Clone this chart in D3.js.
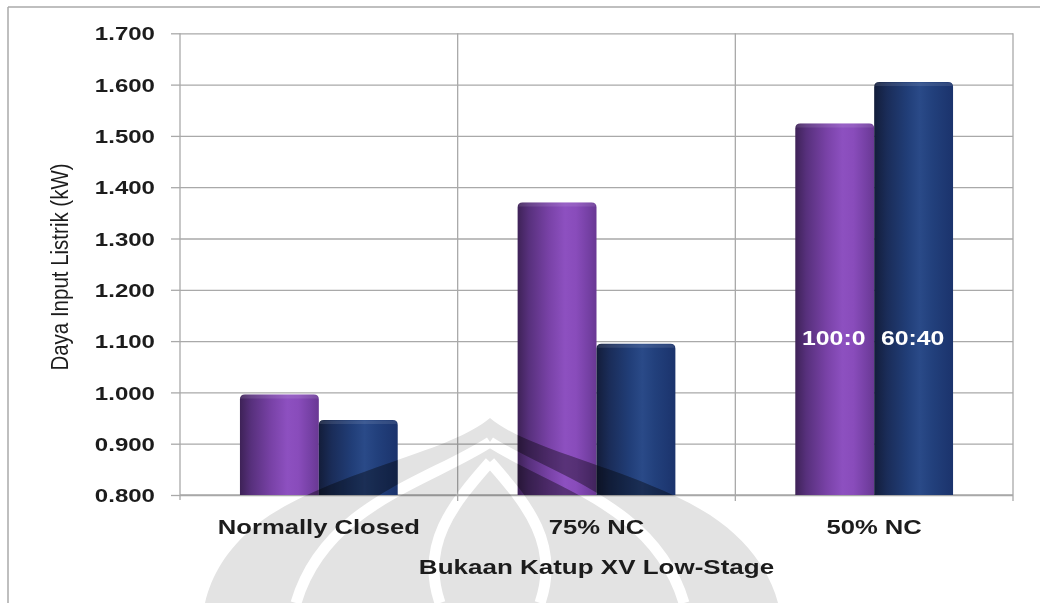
<!DOCTYPE html>
<html>
<head>
<meta charset="utf-8">
<script src="https://cdn.jsdelivr.net/npm/d3@7"></script>
<style>
  html, body { margin: 0; padding: 0; background: #fff; }
  svg { display: block; }
  text { font-family: "Liberation Sans", Arial, sans-serif; fill: #1c1c1c; }
</style>
</head>
<body>
<svg id="chart" width="1040" height="603"></svg>
<script>
// Electrical input power per valve opening, for two mixture ratios
const categories = ["Normally Closed", "75% NC", "50% NC"];
const seriesNames = ["100:0", "60:40"];
const series100_0 = [0.996, 1.370, 1.524];
const series60_40 = [0.946, 1.095, 1.605];
const yTicks = [0.8, 0.9, 1.0, 1.1, 1.2, 1.3, 1.4, 1.5, 1.6, 1.7];
const yTitle = "Daya Input Listrik (kW)";
const xTitle = "Bukaan Katup XV Low-Stage";

const seriesValues = [series100_0, series60_40];
const W = 1040, H = 603;
const plot = { left: 180, right: 1013, top: 33.3, bottom: 495 };
const stretch = 1.3;        // text is drawn horizontally widened
const gridColor = "#a9a9a9";

const svg = d3.select("#chart");
const defs = svg.append("defs");

// cylinder-like horizontal shading for each series
const gradStops = [
  [["0%", "#3e2257"], ["14%", "#57307c"], ["40%", "#7942a7"], ["60%", "#8d50c0"], ["74%", "#894cbb"], ["90%", "#7540a4"], ["100%", "#693893"]],
  [["0%", "#131d3a"], ["16%", "#1a2c58"], ["42%", "#213e78"], ["58%", "#2a4a88"], ["74%", "#22407c"], ["100%", "#1b336c"]]
];
gradStops.forEach((stops, i) => {
  const g = defs.append("linearGradient").attr("id", "barGrad" + i)
    .attr("x1", "0%").attr("x2", "100%").attr("y1", "0%").attr("y2", "0%");
  stops.forEach(([o, c]) => g.append("stop").attr("offset", o).attr("stop-color", c));
});

// outer frame
svg.append("line").attr("x1", 8).attr("y1", 7).attr("x2", W).attr("y2", 7)
  .attr("stroke", "#aaaaaa").attr("stroke-width", 1.5);
svg.append("line").attr("x1", 8).attr("y1", 7).attr("x2", 8).attr("y2", H)
  .attr("stroke", "#aaaaaa").attr("stroke-width", 1.5);

// scales
const x0 = d3.scaleBand().domain(categories).range([plot.left, plot.right]).padding(0);
const x1 = d3.scaleBand().domain(seriesNames).range([0, x0.bandwidth()])
  .paddingInner(0).paddingOuter(0.76);
const y = d3.scaleLinear().domain([0.8, 1.7]).range([plot.bottom, plot.top]);
const fmt = d3.format(".3f");

// horizontal gridlines
const grid = svg.append("g").attr("transform", `translate(${plot.left},0)`)
  .call(d3.axisLeft(y).tickValues(yTicks).tickSize(-(plot.right - plot.left)).tickFormat(""));
grid.select(".domain").remove();
grid.selectAll("line").attr("stroke", gridColor).attr("stroke-width", 1.3);

// vertical gridlines at category boundaries, with ticks below the axis
const bounds = categories.map(c => x0(c) + x0.bandwidth());
svg.append("g").selectAll("line").data(bounds).join("line")
  .attr("x1", d => d).attr("x2", d => d)
  .attr("y1", plot.top).attr("y2", plot.bottom + 6)
  .attr("stroke", gridColor).attr("stroke-width", 1.3);

// left axis with outward ticks
const yAxis = svg.append("g").attr("transform", `translate(${plot.left},0)`)
  .call(d3.axisLeft(y).tickValues(yTicks).tickSize(9).tickFormat(fmt));
yAxis.select(".domain").remove();
yAxis.selectAll("line").attr("stroke", gridColor).attr("stroke-width", 1.3);
yAxis.selectAll("text")
  .attr("x", 0).attr("dy", "0.36em")
  .attr("transform", `translate(-25,0) scale(${stretch},1)`)
  .attr("text-anchor", "end")
  .style("font-family", "'Liberation Sans', Arial, sans-serif")
  .style("font-size", "18.5px").style("font-weight", "bold").style("fill", "#1c1c1c");
svg.append("line").attr("x1", plot.left).attr("x2", plot.left)
  .attr("y1", plot.top).attr("y2", plot.bottom + 5)
  .attr("stroke", gridColor).attr("stroke-width", 1.3);
svg.append("line").attr("x1", plot.left).attr("x2", plot.right)
  .attr("y1", plot.bottom).attr("y2", plot.bottom)
  .attr("stroke", gridColor).attr("stroke-width", 1.3);

// bars
function barPath(x, w, top, bottom, r) {
  return `M${x},${bottom}L${x},${top + r}Q${x},${top} ${x + r},${top}` +
         `L${x + w - r},${top}Q${x + w},${top} ${x + w},${top + r}L${x + w},${bottom}Z`;
}
const barData = [];
categories.forEach((c, ci) => {
  seriesNames.forEach((s, si) => {
    barData.push({ c, s, si, v: seriesValues[si][ci] });
  });
});
const clip = defs.append("clipPath").attr("id", "barClip");
const bars = svg.append("g");
barData.forEach(d => {
  const bx = x0(d.c) + x1(d.s), bw = x1.bandwidth(), top = y(d.v);
  const p = barPath(bx, bw, top, plot.bottom, 5);
  bars.append("path").attr("d", p).attr("fill", `url(#barGrad${d.si})`);
  // soft highlight along the rounded top
  bars.append("path").attr("d", barPath(bx + 1, bw - 2, top + 0.5, top + 4, 3))
    .attr("fill", "#ffffff").attr("opacity", 0.1);
  clip.append("path").attr("d", p);
});

// faint emblem in the lower middle, multiplied over the chart
function emblem(g, tone) {
  g.append("path")
    .attr("d", "M490,418 C450,452 345,468 270,515 C232,540 212,572 205,603 L778,603 C770,572 748,540 710,515 C635,468 530,452 490,418 Z")
    .attr("fill", tone);
  const white = [
    "M490,442 C428,482 325,505 296,603",
    "M490,442 C552,482 655,505 684,603",
    "M490,462 C452,505 420,545 440,603",
    "M490,462 C528,505 560,545 540,603"
  ];
  g.selectAll(".w").data(white).join("path").attr("class", "w")
    .attr("d", d => d).attr("fill", "none").attr("stroke", "#ffffff").attr("stroke-width", 11);
  return g;
}
emblem(svg.append("g").style("mix-blend-mode", "multiply"), "#e3e3e3");
emblem(svg.append("g").attr("clip-path", "url(#barClip)").style("mix-blend-mode", "multiply"), "#b4b4b4");

// series names written inside the last group of bars
const lastCat = categories[categories.length - 1];
svg.append("g").selectAll("text").data(seriesNames).join("text")
  .attr("transform", s => `translate(${x0(lastCat) + x1(s) + x1.bandwidth() / 2 - 1},${y(1.1) + 4}) scale(1.24,1)`)
  .attr("text-anchor", "middle")
  .style("font-size", "20px").style("font-weight", "bold").style("fill", "#ffffff")
  .text(s => s);

// category labels
svg.append("g").selectAll("text").data(categories).join("text")
  .attr("transform", c => `translate(${x0(c) + x0.bandwidth() / 2},534) scale(1.25,1)`)
  .attr("text-anchor", "middle")
  .style("font-size", "20.5px").style("font-weight", "bold")
  .text(c => c);

// axis titles
svg.append("text")
  .attr("transform", `translate(${(plot.left + plot.right) / 2},574) scale(${stretch},1)`)
  .attr("text-anchor", "middle")
  .style("font-size", "20px").style("font-weight", "bold")
  .text(xTitle);
svg.append("text")
  .attr("transform", `translate(68,267) scale(1.2,1) rotate(-90)`)
  .attr("text-anchor", "middle")
  .style("font-size", "20.5px")
  .text(yTitle);
</script>
</body>
</html>
